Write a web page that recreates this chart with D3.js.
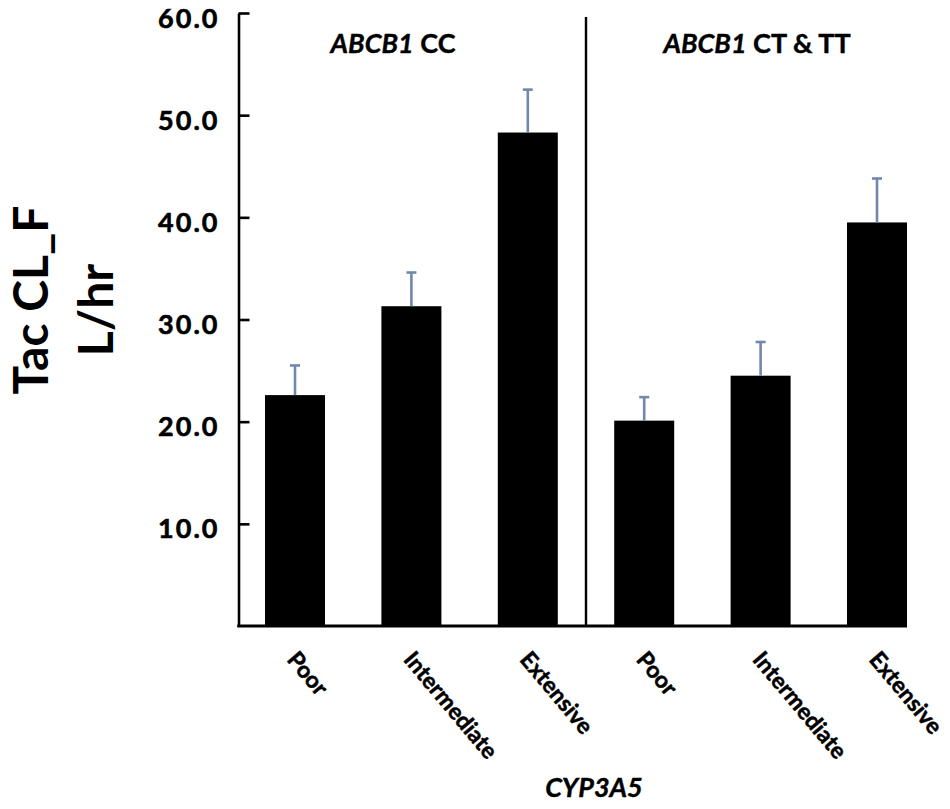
<!DOCTYPE html>
<html>
<head>
<meta charset="utf-8">
<script src="https://cdn.jsdelivr.net/npm/d3@7"></script>
<style>
  html, body { margin: 0; padding: 0; background: #fff; }
  svg { display: block; }
  text { font-family: Lato, "Open Sans", sans-serif; font-weight: bold; fill: #000; }
</style>
</head>
<body>
<svg id="chart" width="950" height="809"></svg>
<script>
const categories = ["Poor", "Intermediate", "Extensive", "Poor", "Intermediate", "Extensive"];
const groupGene = ["ABCB1", "ABCB1"];
const groupGenotype = ["CC", "CT & TT"];
const means = [22.6, 31.3, 48.3, 20.1, 24.5, 39.5];
const errors = [2.9, 3.3, 4.2, 2.3, 3.3, 4.3];
const yTicks = [10, 20, 30, 40, 50, 60];

const svg = d3.select("#chart");
const idx = d3.range(categories.length);

const y = d3.scaleLinear().domain([0, 60]).range([626, 13]);
const x = d3.scaleBand().domain(idx).range([236.8, 935.2]).paddingInner(0.4845).paddingOuter(0.24225);

const axisLeftX = 238.5;

// bars
svg.append("g").selectAll("rect").data(idx).join("rect")
  .attr("x", i => x(i))
  .attr("y", i => y(means[i]))
  .attr("width", x.bandwidth())
  .attr("height", i => y(0) - y(means[i]))
  .attr("fill", "#000");

// error bars
const eb = svg.append("g").attr("stroke", "#7088ab").attr("stroke-width", 2.6);
eb.selectAll("line.v").data(idx).join("line").attr("class", "v")
  .attr("x1", i => x(i) + x.bandwidth() / 2).attr("x2", i => x(i) + x.bandwidth() / 2)
  .attr("y1", i => y(means[i])).attr("y2", i => y(means[i] + errors[i]));
eb.selectAll("line.c").data(idx).join("line").attr("class", "c")
  .attr("x1", i => x(i) + x.bandwidth() / 2 - 5).attr("x2", i => x(i) + x.bandwidth() / 2 + 5)
  .attr("y1", i => y(means[i] + errors[i])).attr("y2", i => y(means[i] + errors[i]));

// y axis
const yAxis = d3.axisLeft(y).tickValues(yTicks).tickFormat(d3.format(".1f"))
  .tickSizeInner(-11).tickSizeOuter(0).tickPadding(19);
const gy = svg.append("g").attr("transform", `translate(${axisLeftX},0)`).call(yAxis);
gy.select(".domain").attr("stroke", "#000").attr("stroke-width", 2.6);
gy.selectAll(".tick line").attr("stroke", "#000").attr("stroke-width", 2.6);
gy.selectAll(".tick text")
  .style("font-family", "Lato, sans-serif").style("font-weight", "bold")
  .style("font-size", "27px").style("letter-spacing", "2px")
  .attr("stroke", "#000").attr("stroke-width", 0.6)
  .attr("dy", "0.52em").attr("fill", "#000");

// x axis line
const xEnd = x(idx[idx.length - 1]) + x.bandwidth();
svg.append("line")
  .attr("x1", axisLeftX - 1.3).attr("x2", xEnd)
  .attr("y1", y(0)).attr("y2", y(0))
  .attr("stroke", "#000").attr("stroke-width", 2.8);

// divider
const divX = (x(2) + x.bandwidth() + x(3)) / 2;
svg.append("line")
  .attr("x1", divX).attr("x2", divX)
  .attr("y1", 17).attr("y2", y(0))
  .attr("stroke", "#000").attr("stroke-width", 2.4);

// category labels (rotated)
svg.append("g").selectAll("text").data(idx).join("text")
  .attr("transform", i => `translate(${x(i) + x.bandwidth() / 2 - 9},660) rotate(50)`)
  .attr("text-anchor", "start")
  .attr("stroke", "#000").attr("stroke-width", 0.5)
  .style("font-size", "23px")
  .text(i => categories[i]);

// group labels
const groupX = [393, 757];
groupGene.forEach((g, k) => {
  const t = svg.append("text")
    .attr("x", groupX[k]).attr("y", 53)
    .attr("text-anchor", "middle")
    .attr("stroke", "#000").attr("stroke-width", 0.4)
    .style("font-size", "27px");
  t.append("tspan").style("font-style", "italic").text(g);
  t.append("tspan").text(" " + groupGenotype[k]);
});

// x axis title
svg.append("text")
  .attr("x", 594).attr("y", 797)
  .attr("text-anchor", "middle")
  .attr("stroke", "#000").attr("stroke-width", 0.4)
  .style("font-size", "27px").style("font-style", "italic")
  .text("CYP3A5");

// y axis title (two lines)
svg.append("text")
  .attr("transform", "translate(48,300) rotate(-90)")
  .attr("text-anchor", "middle")
  .style("font-size", "48px")
  .text("Tac CL_F");
svg.append("text")
  .attr("transform", "translate(113,310) rotate(-90)")
  .attr("text-anchor", "middle")
  .style("font-size", "48px")
  .text("L/hr");
</script>
</body>
</html>
